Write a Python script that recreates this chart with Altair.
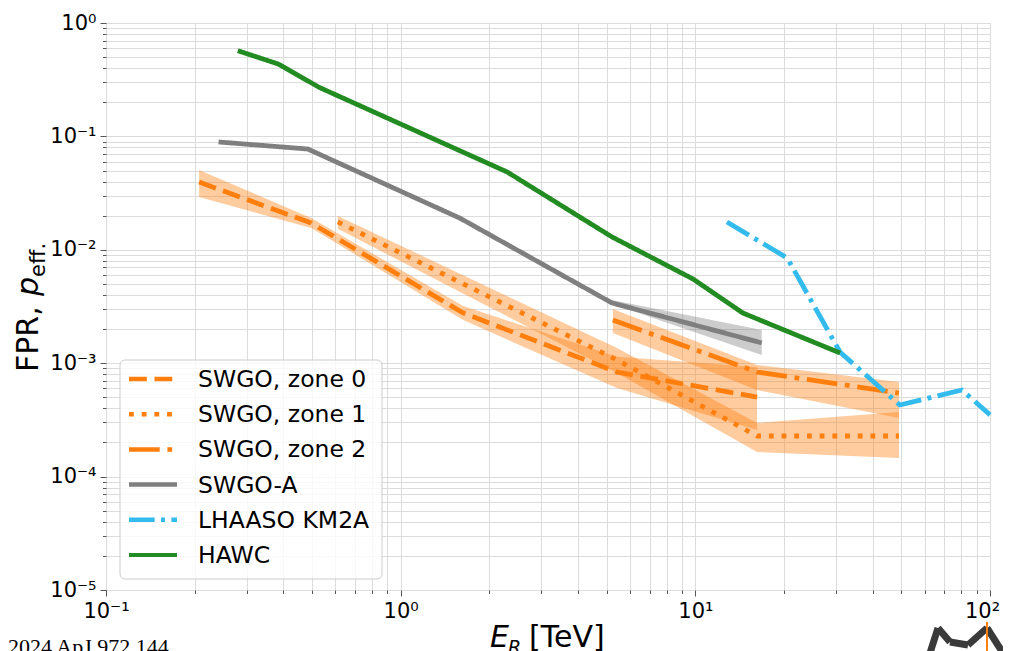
import altair as alt
import pandas as pd

# ---------------- data ----------------
series_names = ["SWGO, zone 0", "SWGO, zone 1", "SWGO, zone 2", "SWGO-A", "LHAASO KM2A", "HAWC"]

zone0_E = [0.207, 0.497, 1.63, 5.42, 16.2]
zone0_F = [0.0396, 0.0172, 0.00277, 0.000836, 0.000503]
zone0_lo = [0.0292, 0.0156, 0.0024, 0.000604, 0.000258]
zone0_hi = [0.0506, 0.0191, 0.00319, 0.00114, 0.000925]

zone1_E = [0.612, 5.42, 16.2, 49.1]
zone1_F = [0.0176, 0.00107, 0.000228, 0.000228]
zone1_lo = [0.0153, 0.00082, 0.000165, 0.000146]
zone1_hi = [0.0199, 0.00136, 0.000297, 0.000371]

zone2_E = [5.25, 16.2, 49.1]
zone2_F = [0.0024, 0.000836, 0.000546]
zone2_lo = [0.00185, 0.00058, 0.000329]
zone2_hi = [0.00301, 0.000964, 0.000683]

swgoA_E = [0.241, 0.484, 1.59, 5.21, 16.8]
swgoA_F = [0.0893, 0.0774, 0.019, 0.0034, 0.00151]
swgoA_band_E = [5.21, 16.8]
swgoA_lo = [0.00333, 0.00118]
swgoA_hi = [0.00361, 0.00196]

lhaaso_E = [12.8, 20.5, 31.0, 49.4, 80.3, 100.0]
lhaaso_F = [0.0176, 0.00847, 0.00125, 0.000428, 0.00058, 0.00035]

hawc_E = [0.28, 0.384, 0.53, 2.30, 5.21, 9.82, 14.5, 31.0]
hawc_F = [0.57, 0.435, 0.27, 0.0485, 0.013, 0.00553, 0.00277, 0.00123]

# ---------------- tables ----------------
line_rows = []
for name, E, F in [
    ("SWGO, zone 0", zone0_E, zone0_F),
    ("SWGO, zone 1", zone1_E, zone1_F),
    ("SWGO, zone 2", zone2_E, zone2_F),
    ("SWGO-A", swgoA_E, swgoA_F),
    ("LHAASO KM2A", lhaaso_E, lhaaso_F),
    ("HAWC", hawc_E, hawc_F),
]:
    for e, f in zip(E, F):
        line_rows.append({"series": name, "E": e, "F": f})
lines_df = pd.DataFrame(line_rows)

band_sets = [
    ("SWGO, zone 0", zone0_E, zone0_lo, zone0_hi),
    ("SWGO, zone 1", zone1_E, zone1_lo, zone1_hi),
    ("SWGO, zone 2", zone2_E, zone2_lo, zone2_hi),
    ("SWGO-A", swgoA_band_E, swgoA_lo, swgoA_hi),
]

# ---------------- styles ----------------
ORANGE = "#ff7f0e"
GRAY = "#7f7f7f"
BLUE = "#33bbee"
GREEN = "#228b22"
colors = [ORANGE, ORANGE, ORANGE, GRAY, BLUE, GREEN]
dashes = [[17.8, 7.7], [4.8, 7.9], [30.7, 7.7, 4.8, 7.7], [1, 0], [25.6, 6.4, 4, 6.4], [1, 0]]
widths = [4.8, 4.8, 4.8, 4.0, 4.0, 3.0]
band_color = {"SWGO, zone 0": ORANGE, "SWGO, zone 1": ORANGE, "SWGO, zone 2": ORANGE, "SWGO-A": GRAY}

x_scale = alt.Scale(type="log", domain=[0.1, 100], nice=False)
y_scale = alt.Scale(type="log", domain=[1e-5, 1], nice=False)

sup = {-5: "⁻⁵", -4: "⁻⁴", -3: "⁻³", -2: "⁻²", -1: "⁻¹", 0: "⁰", 1: "¹", 2: "²"}
lg = "(log(datum.value)/LN10)"
major_test = f"abs({lg} - round({lg})) < 1e-6"
inner = "''"
for k, s in sup.items():
    inner = f"round({lg}) == {k} ? '10{s}' : ({inner})"
label_expr = f"{major_test} ? ({inner}) : ''"

xvals = [float(f"{m}e{k}") for k in range(-1, 2) for m in range(1, 10)] + [100.0]
yvals = [float(f"{m}e{k}") for k in range(-5, 0) for m in range(1, 10)] + [1.0]

def make_axis(vals, last_shift=0):
    kw = dict(
        values=vals, labelExpr=label_expr, title=None, grid=True,
        gridColor="#dcdcdc", gridWidth=1, domain=False,
        tickColor="#555555", tickWidth=1,
        tickSize={"condition": {"test": major_test, "value": 6}, "value": 3.5},
        labelFontSize=21, labelFont="DejaVu Sans", labelColor="#000000",
        labelPadding=4, labelOverlap=False, labelFlush=False, labelBound=False,
    )
    if last_shift:
        kw["labelOffset"] = {"condition": {"test": "datum.value >= 99", "value": last_shift}, "value": 0}
    return alt.Axis(**kw)

x_axis = make_axis(xvals, last_shift=-8)
y_axis = make_axis(yvals)

band_layers = []
for name, E, lo, hi in band_sets:
    df = pd.DataFrame({"E": E, "lo": lo, "hi": hi})
    band_layers.append(
        alt.Chart(df).mark_area(opacity=0.4, strokeWidth=0, color=band_color[name]).encode(
            x=alt.X("E:Q", scale=x_scale, axis=x_axis),
            y=alt.Y("lo:Q", scale=y_scale, axis=y_axis),
            y2="hi:Q",
        )
    )

lines = alt.Chart(lines_df).mark_line(strokeCap="butt", strokeJoin="round").encode(
    x=alt.X("E:Q", scale=x_scale, axis=x_axis),
    y=alt.Y("F:Q", scale=y_scale, axis=y_axis),
    color=alt.Color("series:N", scale=alt.Scale(domain=series_names, range=colors), legend=None),
    strokeDash=alt.StrokeDash("series:N", scale=alt.Scale(domain=series_names, range=dashes), legend=None),
    strokeWidth=alt.StrokeWidth("series:N", scale=alt.Scale(domain=series_names, range=widths), legend=None),
)

one = pd.DataFrame({"a": [0]})

def txt(s, x, y, size, style="normal", angle=0, font="DejaVu Sans", baseline="alphabetic"):
    kw = dict(text=s, fontSize=size, font=font, fontStyle=style, align="left",
              baseline=baseline, color="#000000")
    if angle:
        kw["angle"] = angle
    return alt.Chart(one).mark_text(**kw).encode(x=alt.value(x), y=alt.value(y))

def seg(x1, y1, x2, y2, color, width, dash=None):
    kw = dict(color=color, strokeWidth=width, strokeCap="butt")
    if dash:
        kw["strokeDash"] = dash
    return alt.Chart(one).mark_rule(**kw).encode(
        x=alt.value(x1), y=alt.value(y1), x2=alt.value(x2), y2=alt.value(y2))

# ---------------- legend (drawn by hand, matplotlib style) ----------------
leg_left, leg_top, leg_right, leg_bottom = 14, 337, 276, 556
legend_layers = [
    alt.Chart(one).mark_rect(fill="white", fillOpacity=0.8, stroke="#cccccc",
                             strokeWidth=1, cornerRadius=5).encode(
        x=alt.value(leg_left), x2=alt.value(leg_right),
        y=alt.value(leg_top), y2=alt.value(leg_bottom))
]
for i, name in enumerate(series_names):
    yy = 356 + i * 35.2
    legend_layers.append(seg(23, yy, 71, yy, colors[i], 4.5 if widths[i] > 3 else 4.0,
                             None if dashes[i] == [1, 0] else dashes[i]))
    legend_layers.append(txt(name, 92, yy + 1, 23.5, baseline="middle"))

# ---------------- titles / footer / logo ----------------
texts = [
    txt("E", 384, 624, 30, "italic"),
    txt("R", 402, 631, 19, "italic"),
    txt("[TeV]", 423, 624, 30),
    txt("FPR,", -68, 349, 30, angle=270),
    txt("p", -68, 273, 30, "italic", angle=270),
    txt("eff.", -61, 254, 21, angle=270),
    txt("2024 ApJ 972 144", -98, 631, 22, font="Liberation Serif"),
]

LOGO = "#3a3a3a"
logo_pts = [(824, 630), (832, 605), (844, 619), (862, 622), (881, 605), (897, 630)]
logo = [seg(a[0], a[1], b[0], b[1], LOGO, 7) for a, b in zip(logo_pts[:-1], logo_pts[1:])]
logo.append(seg(881, 599, 881, 630, ORANGE, 2))

chart = alt.layer(*band_layers, lines, *legend_layers, *texts, *logo).properties(
    width=884, height=567,
    autosize=alt.AutoSizeParams(type="none"),
    padding={"left": 98, "top": 15, "right": 13, "bottom": 61},
).configure_view(stroke="#666666", strokeWidth=1.3).configure(background="white")

chart.save("out.html", embed_options={"renderer": "svg", "actions": False})
